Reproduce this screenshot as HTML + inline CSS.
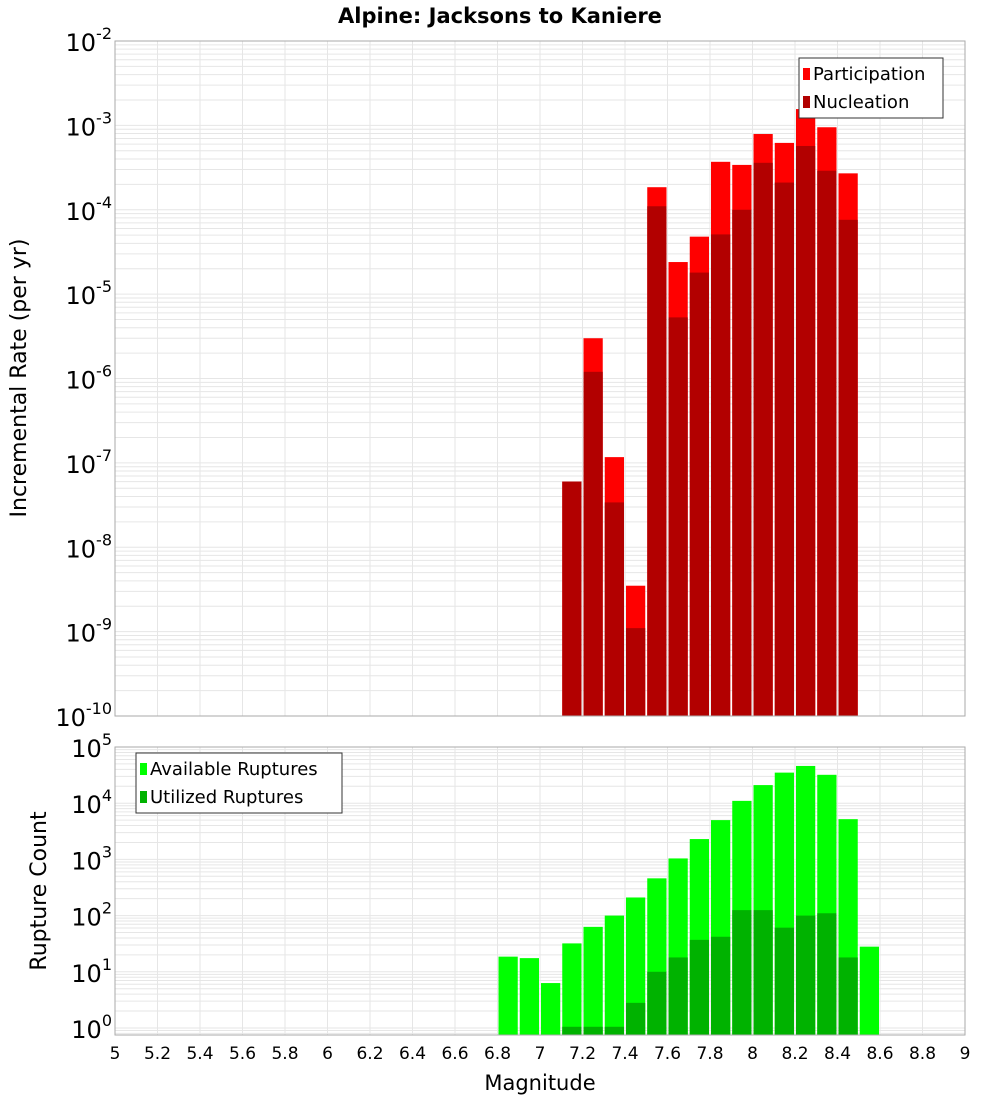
<!DOCTYPE html>
<html><head><meta charset="utf-8"><style>
body{margin:0;background:#fff;font-family:"DejaVu Sans","Liberation Sans",sans-serif}
svg{display:block}
</style></head><body>
<svg id="c" width="1000" height="1100" xmlns="http://www.w3.org/2000/svg"></svg>
<script>
const binStarts=[7.1,7.2,7.3,7.4,7.5,7.6,7.7,7.8,7.9,8.0,8.1,8.2,8.3,8.4];
const participation=[6e-8,3e-6,1.17e-7,3.5e-9,1.85e-4,2.4e-5,4.8e-5,3.7e-4,3.4e-4,7.9e-4,6.2e-4,1.56e-3,9.5e-4,2.7e-4];
const nucleation=[6e-8,1.2e-6,3.4e-8,1.1e-9,1.1e-4,5.3e-6,1.8e-5,5.1e-5,1e-4,3.6e-4,2.1e-4,5.7e-4,2.9e-4,7.6e-5];
const countStarts=[6.8,6.9,7.0,7.1,7.2,7.3,7.4,7.5,7.6,7.7,7.8,7.9,8.0,8.1,8.2,8.3,8.4,8.5];
const available=[18.6,17.5,6.3,32,63,100,210,460,1040,2300,5000,11000,21000,35000,46000,32000,5200,28];
const utilized=[0,0,0,1.05,1.05,1.05,2.8,10,18,37,42,125,125,61,100,110,18,0];
const xTicks=[5,5.2,5.4,5.6,5.8,6,6.2,6.4,6.6,6.8,7,7.2,7.4,7.6,7.8,8,8.2,8.4,8.6,8.8,9];

const svg=document.getElementById('c');const NS='http://www.w3.org/2000/svg';
function el(t,a,p){const e=document.createElementNS(NS,t);for(const k in a)e.setAttribute(k,a[k]);(p||svg).appendChild(e);return e;}
const X0=115,X1=965;
const x=m=>X0+(m-5)/4*(X1-X0);
const topP={y0:41,y1:716,lo:-10,hi:-2};
const botP={y0:747,y1:1035,lo:-0.125,hi:5};
const yf=(p,v)=>p.y1-(Math.log10(v)-p.lo)/(p.hi-p.lo)*(p.y1-p.y0);

function panel(p,name){
  const g=el('g',{});
  
  
  xTicks.forEach(t=>el('line',{x1:x(t),x2:x(t),y1:p.y0,y2:p.y1,stroke:'#e6e6e6','stroke-width':1},g));
  for(let d=Math.floor(p.lo);d<p.hi;d++)for(let k=1;k<10;k++){const v=k*Math.pow(10,d);const lv=Math.log10(v);if(lv<p.lo||lv>p.hi)continue;
    const yy=yf(p,v);el('line',{x1:X0,x2:X1,y1:yy,y2:yy,stroke:'#e6e6e6','stroke-width':1},g);}
}
function frame(p,name){const r=el('rect',{x:X0,y:p.y0,width:X1-X0,height:p.y1-p.y0,fill:'none',stroke:'#aaa'});
  }
function yLabels(p,name){
  for(let d=Math.ceil(p.lo);d<=p.hi;d++){const yy=yf(p,Math.pow(10,d));
    const t=el('text',{x:112,y:yy+10,'text-anchor':'end','font-size':24,fill:'#000'});
    
    t.textContent='10';const s=el('tspan',{dy:-12,'font-size':16},t);s.textContent=String(d);}
}
panel(topP,'rate');panel(botP,'count');

binStarts.forEach((m,i)=>{
  const r=el('rect',{x:x(m)+1,y:yf(topP,participation[i]),width:x(m+0.1)-x(m)-2,height:topP.y1-yf(topP,participation[i]),fill:'#ff0000'});
  
  const n=el('rect',{x:x(m)+1,y:yf(topP,nucleation[i]),width:x(m+0.1)-x(m)-2,height:topP.y1-yf(topP,nucleation[i]),fill:'#b20000'});
  
});
countStarts.forEach((m,i)=>{
  const r=el('rect',{x:x(m)+1,y:yf(botP,available[i]),width:x(m+0.1)-x(m)-2,height:botP.y1-yf(botP,available[i]),fill:'#00ff00'});
  
  if(utilized[i]>0){const n=el('rect',{x:x(m)+1,y:yf(botP,utilized[i]),width:x(m+0.1)-x(m)-2,height:botP.y1-yf(botP,utilized[i]),fill:'#00b200'});
  }
});
frame(topP,'rate');frame(botP,'count');yLabels(topP,'rate-y');yLabels(botP,'count-y');
xTicks.forEach(t=>{const e=el('text',{x:x(t),y:1059,'text-anchor':'middle','font-size':17,fill:'#000'});
  
  e.textContent=String(Math.round(t*10)/10);});
function txt(s,a,name){const e=el('text',a);e.textContent=s;return e;}
txt('Alpine: Jacksons to Kaniere',{x:500,y:23,'text-anchor':'middle','font-size':21,'font-weight':'bold'},'chart-title');
txt('Magnitude',{x:540,y:1090,'text-anchor':'middle','font-size':21},'x-axis-title');
txt('Incremental Rate (per yr)',{x:26,y:378,'text-anchor':'middle','font-size':22,transform:'rotate(-90 26 378)'},'rate-axis-title');
txt('Rupture Count',{x:46,y:891,'text-anchor':'middle','font-size':22,transform:'rotate(-90 46 891)'},'count-axis-title');
function legend(xx,yy,w,items,name){const r=el('rect',{x:xx,y:yy,width:w,height:60,fill:'#fff',stroke:'#333'});
  
  items.forEach((it,i)=>{const s=el('rect',{x:xx+4,y:yy+10+i*28,width:7,height:12,fill:it[1]});
    
    txt(it[0],{x:xx+14,y:yy+22+i*28,'font-size':18},'legend-entry');});}
legend(799,58,144,[['Participation','#ff0000'],['Nucleation','#b20000']],'rate-legend');
legend(136,753,206,[['Available Ruptures','#00ff00'],['Utilized Ruptures','#00b200']],'count-legend');
</script>
</body></html>
